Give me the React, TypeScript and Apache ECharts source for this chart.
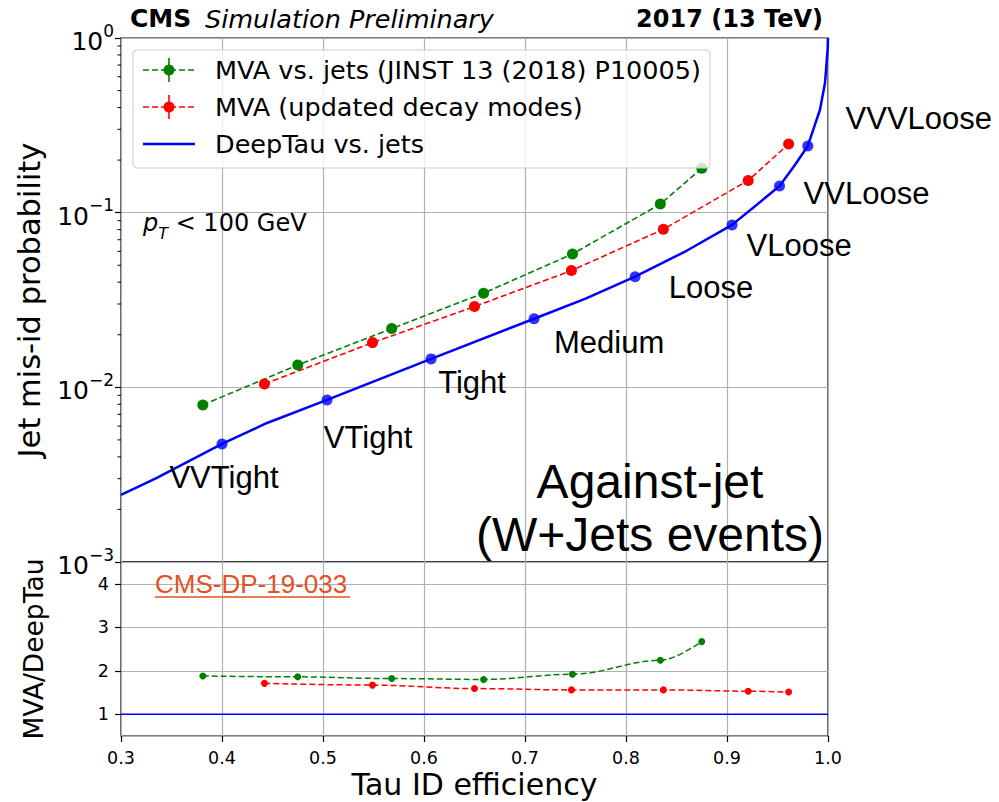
import React, { useEffect, useRef } from 'react';
import * as echarts from 'echarts';

// ---------- data ----------
const wpNames = ['VVTight', 'VTight', 'Tight', 'Medium', 'Loose', 'VLoose', 'VVLoose', 'VVVLoose'];
const deepTauWpEff = [0.400, 0.504, 0.607, 0.709, 0.809, 0.905, 0.952, 0.980];
const deepTauWpMisId = [0.00474, 0.00847, 0.01455, 0.0247, 0.0430, 0.0851, 0.142, 0.241];

const deepTauCurveEff = [0.300, 0.335, 0.400, 0.444, 0.504, 0.607, 0.709, 0.760, 0.809, 0.860, 0.905, 0.952, 0.966, 0.980, 0.987, 0.992, 0.997, 0.9996, 1.0];
const deepTauCurveMisId = [0.00242, 0.00302, 0.00474, 0.00623, 0.00847, 0.01455, 0.0247, 0.0322, 0.0430, 0.0605, 0.0851, 0.142, 0.183, 0.241, 0.318, 0.387, 0.55, 0.854, 1.0];

const mvaOldEff = [0.381, 0.475, 0.568, 0.659, 0.747, 0.834, 0.875];
const mvaOldMisId = [0.00793, 0.01343, 0.0217, 0.0346, 0.058, 0.112, 0.1795];
const mvaNewEff = [0.442, 0.549, 0.650, 0.746, 0.837, 0.921, 0.961];
const mvaNewMisId = [0.01045, 0.01803, 0.029, 0.0466, 0.0803, 0.153, 0.247];

const mvaOldRatio = [1.88, 1.86, 1.82, 1.80, 1.92, 2.24, 2.67];
const mvaNewRatio = [1.71, 1.67, 1.59, 1.56, 1.56, 1.53, 1.51];
const deepTauRatioEff = [0.3, 1.0];
const deepTauRatio = [1, 1];

const minorTickValues = [2, 3, 4, 5, 6, 7, 8, 9].flatMap((m) => [m * 1e-3, m * 1e-2, m * 1e-1]);

const legendLabels = ['MVA vs. jets (JINST 13 (2018) P10005)', 'MVA (updated decay modes)', 'DeepTau vs. jets'];
const legendColors = ['#008000', '#ff0000', '#0000ff'];

// label offsets (px) of the working-point names relative to their markers
const wpLabelOffsets = [[2, 34], [41, 38], [41, 24], [75, 24], [76, 11], [67, 21], [87, 7], [111, -27]];

const zip = (a: number[], b: number[]) => a.map((v, i) => [v, b[i]]);

const DJ = 'DejaVu Sans';
const LS = 'Liberation Sans, Arial, sans-serif';

export default function App() {
  const ref = useRef<HTMLDivElement>(null);
  useEffect(() => {
    document.body.style.margin = '0';
    const chart = echarts.init(ref.current!, undefined, { renderer: 'svg' });
    const gridColor = '#b0b0b0';
    const L = 121, W = 707;
    const wpSize = 11;

    const legendGraphics: any[] = [
      {
        type: 'rect', z: 100,
        shape: { x: 133, y: 50, width: 577, height: 118, r: 4 },
        style: { fill: 'rgba(255,255,255,0.8)', stroke: '#cccccc', lineWidth: 1 },
      },
    ];
    legendLabels.forEach((t, i) => {
      const cy = 70 + i * 37;
      const c = legendColors[i];
      if (i < 2) {
        legendGraphics.push({ type: 'line', z: 101, shape: { x1: 143, y1: cy, x2: 195, y2: cy }, style: { stroke: c, lineWidth: 1.6, lineDash: [6, 3] } });
        legendGraphics.push({ type: 'line', z: 101, shape: { x1: 169, y1: cy - 12, x2: 169, y2: cy + 12 }, style: { stroke: c, lineWidth: 1.6 } });
        legendGraphics.push({ type: 'circle', z: 102, shape: { cx: 169, cy, r: 5.5 }, style: { fill: c } });
      } else {
        legendGraphics.push({ type: 'line', z: 101, shape: { x1: 143, y1: cy, x2: 195, y2: cy }, style: { stroke: c, lineWidth: 2.5 } });
      }
      legendGraphics.push({ type: 'text', z: 101, x: 215, y: cy, style: { text: t, fontFamily: DJ, fontSize: 25.5, fill: '#000', verticalAlign: 'middle' } });
    });

    const wpLabelStyle = {
      show: true, align: 'center', verticalAlign: 'middle',
      fontFamily: LS, fontSize: 31, color: '#000000', opacity: 1,
      textBorderWidth: 0, textBorderColor: 'transparent',
    };

    const option: any = {
      animation: false,
      backgroundColor: '#fff',
      grid: [
        { left: L, top: 38, width: W, height: 524, show: true, borderColor: '#000', borderWidth: 1.2, backgroundColor: 'transparent' },
        { left: L, top: 562, width: W, height: 174, show: true, borderColor: '#000', borderWidth: 1.2, backgroundColor: 'transparent' },
      ],
      xAxis: [
        {
          gridIndex: 0, type: 'value', min: 0.3, max: 1.0, interval: 0.1,
          axisLine: { show: false }, axisTick: { show: false }, axisLabel: { show: false },
          splitLine: { show: true, lineStyle: { color: gridColor, width: 1.2 } },
        },
        {
          gridIndex: 1, type: 'value', min: 0.3, max: 1.0, interval: 0.1,
          axisLine: { show: false },
          axisTick: { show: true, length: 6, lineStyle: { color: '#000', width: 1.2 } },
          axisLabel: { margin: 13, fontFamily: DJ, fontSize: 17.5, color: '#000', formatter: (v: number) => v.toFixed(1) },
          splitLine: { show: true, lineStyle: { color: gridColor, width: 1.2 } },
          name: 'Tau ID efficiency', nameLocation: 'middle', nameGap: 33,
          nameTextStyle: { fontFamily: DJ, fontSize: 30, color: '#000' },
        },
      ],
      yAxis: [
        {
          gridIndex: 0, type: 'log', logBase: 10, min: 0.001, max: 1,
          axisLine: { show: false },
          axisTick: { show: true, length: 6, lineStyle: { color: '#000', width: 1.2 } },
          axisLabel: {
            margin: 7,
            formatter: (v: number) => {
              const e = Math.round(Math.log10(v));
              return `{b|10}{s|${e < 0 ? '\u2212' + -e : e}}`;
            },
            rich: {
              b: { fontFamily: DJ, fontSize: 25, color: '#000', lineHeight: 32, verticalAlign: 'bottom' },
              s: { fontFamily: DJ, fontSize: 17, color: '#000', lineHeight: 20, verticalAlign: 'top' },
            },
          },
          splitLine: { show: true, lineStyle: { color: gridColor, width: 1.2 } },
          name: 'Jet mis-id probability', nameLocation: 'middle', nameGap: 76,
          nameTextStyle: { fontFamily: DJ, fontSize: 30.5, color: '#000' },
        },
        {
          gridIndex: 1, type: 'value', min: 0.5, max: 4.5, splitNumber: 4,
          axisLine: { show: false },
          axisTick: { show: true, length: 6, lineStyle: { color: '#000', width: 1.2 } },
          axisLabel: {
            margin: 12, fontFamily: DJ, fontSize: 17.5, color: '#000',
            showMinLabel: false, showMaxLabel: false,
            formatter: (v: number) => (Number.isInteger(v) ? String(v) : ''),
          },
          splitLine: { show: true, lineStyle: { color: gridColor, width: 1.2 } },
          name: 'MVA/DeepTau', nameLocation: 'middle', nameGap: 74,
          nameTextStyle: { fontFamily: DJ, fontSize: 26.5, color: '#000' },
        },
      ],
      series: [
        {
          name: 'DeepTau vs. jets', type: 'line', xAxisIndex: 0, yAxisIndex: 0,
          data: zip(deepTauCurveEff, deepTauCurveMisId),
          showSymbol: false,
          lineStyle: { color: '#0000ff', width: 2.5 }, z: 3,
        },
        {
          name: 'DeepTau WPs', type: 'scatter', xAxisIndex: 0, yAxisIndex: 0,
          symbol: 'circle', symbolSize: wpSize, itemStyle: { color: '#0000ff' }, z: 4,
          data: deepTauWpEff.map((x, i) => ({
            value: [x, deepTauWpMisId[i]],
            name: wpNames[i],
            label: {
              ...wpLabelStyle,
              formatter: wpNames[i],
              position: [wpSize / 2 + wpLabelOffsets[i][0], wpSize / 2 + wpLabelOffsets[i][1]],
            },
          })),
          label: { ...wpLabelStyle },
          emphasis: { disabled: true },
        },
        {
          name: legendLabels[0], type: 'line', xAxisIndex: 0, yAxisIndex: 0,
          data: zip(mvaOldEff, mvaOldMisId),
          symbol: 'circle', symbolSize: 11, itemStyle: { color: '#008000' },
          lineStyle: { color: '#008000', width: 1.6, type: [6, 3] }, z: 3,
        },
        {
          name: legendLabels[1], type: 'line', xAxisIndex: 0, yAxisIndex: 0,
          data: zip(mvaNewEff, mvaNewMisId),
          symbol: 'circle', symbolSize: 11, itemStyle: { color: '#ff0000' },
          lineStyle: { color: '#ff0000', width: 1.6, type: [6, 3] }, z: 3,
        },
        {
          name: 'MVA vs. jets ratio', type: 'line', xAxisIndex: 1, yAxisIndex: 1,
          data: zip(mvaOldEff, mvaOldRatio), smooth: 0.35, smoothMonotone: 'x',
          symbol: 'circle', symbolSize: 7, itemStyle: { color: '#008000' },
          lineStyle: { color: '#008000', width: 1.5, type: [6, 3] },
        },
        {
          name: 'MVA updated ratio', type: 'line', xAxisIndex: 1, yAxisIndex: 1,
          data: zip(mvaNewEff, mvaNewRatio), smooth: 0.35, smoothMonotone: 'x',
          symbol: 'circle', symbolSize: 7, itemStyle: { color: '#ff0000' },
          lineStyle: { color: '#ff0000', width: 1.5, type: [6, 3] },
        },
        {
          name: 'DeepTau ratio', type: 'line', xAxisIndex: 1, yAxisIndex: 1,
          data: zip(deepTauRatioEff, deepTauRatio), showSymbol: false,
          lineStyle: { color: '#0000ff', width: 1.5 },
        },
        {
          name: 'minor ticks', type: 'custom', xAxisIndex: 0, yAxisIndex: 0, clip: false, silent: true,
          data: minorTickValues.map((v) => [0.3, v]),
          renderItem: (params: any, api: any) => {
            const p = api.coord([api.value(0), api.value(1)]);
            return { type: 'line', shape: { x1: p[0] - 3.5, y1: p[1], x2: p[0], y2: p[1] }, style: { stroke: '#000', lineWidth: 1 } };
          },
        },
      ],
      graphic: [
        ...legendGraphics,
        { type: 'text', x: 130, y: 18.5, style: { text: 'CMS', fontFamily: DJ, fontWeight: 'bold', fontSize: 25, fill: '#000', verticalAlign: 'middle' } },
        { type: 'text', x: 205, y: 18.5, style: { text: 'Simulation Preliminary', fontFamily: DJ, fontStyle: 'italic', fontSize: 25.5, fill: '#000', verticalAlign: 'middle' } },
        { type: 'text', x: 823, y: 18.5, style: { text: '2017 (13 TeV)', fontFamily: DJ, fontWeight: 'bold', fontSize: 24, fill: '#000', align: 'right', verticalAlign: 'middle' } },
        {
          type: 'text', x: 143, y: 226, z: 5,
          style: {
            text: '{p|p}{t|T}{n| < 100 GeV}',
            verticalAlign: 'middle',
            rich: {
              p: { fontFamily: DJ, fontStyle: 'italic', fontSize: 24, fill: '#000', lineHeight: 30, verticalAlign: 'top' },
              t: { fontFamily: DJ, fontStyle: 'italic', fontSize: 16, fill: '#000', lineHeight: 11, verticalAlign: 'bottom' },
              n: { fontFamily: DJ, fontSize: 24, fill: '#000', lineHeight: 30, verticalAlign: 'top' },
            },
          },
        },
        { type: 'text', x: 650, y: 481, z: 5, style: { text: 'Against-jet', fontFamily: LS, fontSize: 48, fill: '#000', align: 'center', verticalAlign: 'middle' } },
        { type: 'text', x: 650, y: 534, z: 5, style: { text: '(W+Jets events)', fontFamily: LS, fontSize: 48, fill: '#000', align: 'center', verticalAlign: 'middle' } },
        { type: 'text', x: 155, y: 584, z: 5, style: { text: 'CMS-DP-19-033', fontFamily: LS, fontSize: 26, fill: '#e2511f', verticalAlign: 'middle' } },
        { type: 'line', z: 5, shape: { x1: 155, y1: 597, x2: 350, y2: 597 }, style: { stroke: '#e2511f', lineWidth: 1.5 } },
      ],
    };
    chart.setOption(option);
    return () => chart.dispose();
  }, []);
  return <div ref={ref} style={{ width: 999, height: 802 }} />;
}
